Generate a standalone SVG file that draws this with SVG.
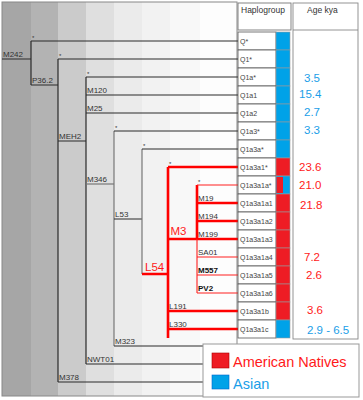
<svg xmlns="http://www.w3.org/2000/svg" width="363" height="400" viewBox="0 0 363 400">
<style>
.bl{stroke:#2a2a2a;stroke-width:1.2;fill:none}
.gl{stroke:#777;stroke-width:1.2;fill:none}
.rt{stroke:#ff0000;stroke-width:2.6;fill:none}
.rn{stroke:#ff2020;stroke-width:1.1;fill:none}
.lab{font-family:"Liberation Sans",Arial,sans-serif;font-size:8px;fill:#333}
.lb{font-weight:bold;fill:#111}
.ast{font-family:"Liberation Sans",Arial,sans-serif;font-size:6px;fill:#333}
.big{font-family:"Liberation Sans",Arial,sans-serif;font-size:11.5px;fill:#ff1a1a}
.hg{font-family:"Liberation Sans",Arial,sans-serif;font-size:7px;fill:#444}
.cell{fill:#fff;stroke:#555;stroke-width:0.8}
.red{fill:#ee1c24;stroke:#999;stroke-width:0.6}
.blue{fill:#00a2e8;stroke:#999;stroke-width:0.6}
.age{font-family:"Liberation Sans",Arial,sans-serif;font-size:11.5px}
.ab{fill:#1a9ee8}
.ar{fill:#ff1a1a}
.hdr{font-family:"Liberation Sans",Arial,sans-serif;font-size:8.5px;fill:#333}
</style>

<!-- background bands -->
<g id="background">
<rect x="2" y="2" width="235" height="394" fill="#fdfdfd"/>
<rect x="2" y="2" width="29" height="394" fill="#a6a6a6"/>
<rect x="31" y="2" width="27" height="394" fill="#b3b3b3"/>
<rect x="58" y="2" width="28" height="394" fill="#cbcbcb"/>
<rect x="86" y="2" width="28" height="394" fill="#dfdfdf"/>
<rect x="114" y="2" width="28" height="394" fill="#ebebeb"/>
<rect x="142" y="2" width="28" height="394" fill="#f2f2f2"/>
<rect x="170" y="2" width="30" height="394" fill="#f8f8f8"/>
<rect x="2" y="2" width="235" height="394" fill="none" stroke="#888" stroke-width="1"/>
</g>

<!-- connectors -->
<g id="connectors">
<path class="bl" d="M2 59H31M31 41V85M31 41H238M31 85H58"/>
<path class="bl" d="M58 59V382M58 59H238M58 141H86M58 382H237"/>
<path class="bl" d="M86 77V364M86 77H238M86 95H238M86 113H238M86 364H237"/>
<path class="gl" d="M86 184H114"/>
<path class="gl" d="M114 131V346"/>
<path class="bl" d="M114 131H238M114 219H142M114 346H237"/>
<path class="gl" d="M142 149V274"/>
<path class="bl" d="M142 149H238"/>
<path class="rt" d="M142 274H168M168 167V338M168 167H238M168 239H238M168 311H238M168 329H238"/>
<path class="rt" d="M197 185V239M197 203H238M197 221H238" stroke-width="2.2"/>
<path class="rn" d="M197 239V293M197 185H238M197 257H238M197 275H238M197 293H238"/>
</g>

<!-- branch labels -->
<g id="branch-labels">
<text class="lab" x="3" y="57">M242</text>
<text class="lab" x="32" y="83">P36.2</text>
<text class="lab" x="59" y="139">MEH2</text>
<text class="lab" x="87" y="93">M120</text>
<text class="lab" x="87" y="111">M25</text>
<text class="lab" x="87" y="182">M346</text>
<text class="lab" x="87" y="362">NWT01</text>
<text class="lab" x="59" y="380">M378</text>
<text class="lab" x="115" y="217">L53</text>
<text class="lab" x="115" y="344">M323</text>
<text class="lab" x="169" y="309">L191</text>
<text class="lab" x="169" y="327">L330</text>
<text class="lab" x="198" y="201">M19</text>
<text class="lab" x="198" y="219">M194</text>
<text class="lab" x="198" y="237">M199</text>
<text class="lab" x="198" y="255">SA01</text>
<text class="lab lb" x="198" y="273">M557</text>
<text class="lab lb" x="198" y="291">PV2</text>
<text class="big" x="145" y="270.5">L54</text>
<text class="big" x="170.5" y="234.5">M3</text>
<text class="ast" x="32" y="40">*</text>
<text class="ast" x="59" y="58">*</text>
<text class="ast" x="87" y="76">*</text>
<text class="ast" x="115" y="130">*</text>
<text class="ast" x="143" y="148">*</text>
<text class="ast" x="169" y="166">*</text>
<text class="ast" x="198" y="184">*</text>
</g>

<!-- headers -->
<g id="header-haplogroup">
<rect x="238" y="3" width="53" height="27" fill="#fff" stroke="#777" stroke-width="0.9"/>
<text class="hdr" x="241" y="13">Haplogroup</text>
</g>
<g id="age-column">
<rect x="293" y="3" width="65" height="336" fill="#fff" stroke="#888" stroke-width="0.9"/>
<line x1="293" y1="30" x2="358" y2="30" stroke="#888" stroke-width="0.9"/>
<text class="hdr" x="307" y="13">Age kya</text>
</g>

<!-- haplogroup nodes -->
<g id="n-Q"><rect class="cell" x="238" y="32" width="38" height="18"/><rect class="blue" x="276" y="32" width="14" height="18"/><text class="hg" x="240" y="43.5">Q*</text></g>
<g id="n-Q1"><rect class="cell" x="238" y="50" width="38" height="18"/><rect class="blue" x="276" y="50" width="14" height="18"/><text class="hg" x="240" y="61.5">Q1*</text></g>
<g id="n-Q1a"><rect class="cell" x="238" y="68" width="38" height="18"/><rect class="blue" x="276" y="68" width="14" height="18"/><text class="hg" x="240" y="79.5">Q1a*</text><text class="age ab" x="304" y="81.5">3.5</text></g>
<g id="n-Q1a1"><rect class="cell" x="238" y="86" width="38" height="18"/><rect class="blue" x="276" y="86" width="14" height="18"/><text class="hg" x="240" y="97.5">Q1a1</text><text class="age ab" x="299" y="97.5">15.4</text></g>
<g id="n-Q1a2"><rect class="cell" x="238" y="104" width="38" height="18"/><rect class="blue" x="276" y="104" width="14" height="18"/><text class="hg" x="240" y="115.5">Q1a2</text><text class="age ab" x="304" y="116">2.7</text></g>
<g id="n-Q1a3"><rect class="cell" x="238" y="122" width="38" height="18"/><rect class="blue" x="276" y="122" width="14" height="18"/><text class="hg" x="240" y="133.5">Q1a3*</text><text class="age ab" x="304" y="134">3.3</text></g>
<g id="n-Q1a3a"><rect class="cell" x="238" y="140" width="38" height="18"/><rect class="blue" x="276" y="140" width="14" height="18"/><text class="hg" x="240" y="151.5">Q1a3a*</text></g>
<g id="n-Q1a3a1"><rect class="cell" x="238" y="158" width="38" height="18"/><rect class="red" x="276" y="158" width="14" height="18"/><text class="hg" x="240" y="169.5">Q1a3a1*</text><text class="age ar" x="299" y="170.5">23.6</text></g>
<g id="n-Q1a3a1a"><rect class="cell" x="238" y="176" width="38" height="18"/><rect class="blue" x="276" y="176" width="14" height="18"/><rect x="276.5" y="177" width="6.5" height="16" fill="#ee1c24"/><text class="hg" x="240" y="187.5">Q1a3a1a*</text><text class="age ar" x="299" y="188.5">21.0</text></g>
<g id="n-Q1a3a1a1"><rect class="cell" x="238" y="194" width="38" height="18"/><rect class="red" x="276" y="194" width="14" height="18"/><text class="hg" x="240" y="205.5">Q1a3a1a1</text><text class="age ar" x="300" y="209">21.8</text></g>
<g id="n-Q1a3a1a2"><rect class="cell" x="238" y="212" width="38" height="18"/><rect class="red" x="276" y="212" width="14" height="18"/><text class="hg" x="240" y="223.5">Q1a3a1a2</text></g>
<g id="n-Q1a3a1a3"><rect class="cell" x="238" y="230" width="38" height="18"/><rect class="red" x="276" y="230" width="14" height="18"/><text class="hg" x="240" y="241.5">Q1a3a1a3</text></g>
<g id="n-Q1a3a1a4"><rect class="cell" x="238" y="248" width="38" height="18"/><rect class="red" x="276" y="248" width="14" height="18"/><text class="hg" x="240" y="259.5">Q1a3a1a4</text><text class="age ar" x="304" y="261">7.2</text></g>
<g id="n-Q1a3a1a5"><rect class="cell" x="238" y="266" width="38" height="18"/><rect class="red" x="276" y="266" width="14" height="18"/><text class="hg" x="240" y="277.5">Q1a3a1a5</text><text class="age ar" x="306" y="279">2.6</text></g>
<g id="n-Q1a3a1a6"><rect class="cell" x="238" y="284" width="38" height="18"/><rect class="red" x="276" y="284" width="14" height="18"/><text class="hg" x="240" y="295.5">Q1a3a1a6</text></g>
<g id="n-Q1a3a1b"><rect class="cell" x="238" y="302" width="38" height="18"/><rect class="red" x="276" y="302" width="14" height="18"/><text class="hg" x="240" y="313.5">Q1a3a1b</text><text class="age ar" x="307" y="314">3.6</text></g>
<g id="n-Q1a3a1c"><rect class="cell" x="238" y="320" width="38" height="18"/><rect class="blue" x="276" y="320" width="14" height="18"/><text class="hg" x="240" y="331.5">Q1a3a1c</text><text class="age ab" x="307" y="334">2.9 - 6.5</text></g>

<!-- legend -->
<g id="legend">
<rect x="203" y="344" width="156" height="53" fill="#fff" stroke="#999" stroke-width="1"/>
<rect x="212" y="353" width="17" height="15" fill="#ee1c24" stroke="#a00" stroke-width="0.6"/>
<rect x="212" y="375" width="17" height="14" fill="#00a2e8" stroke="#06c" stroke-width="0.6"/>
<text x="233" y="367" font-family="'Liberation Sans',Arial,sans-serif" font-size="14.5" fill="#ff1a1a">American Natives</text>
<text x="233" y="388.5" font-family="'Liberation Sans',Arial,sans-serif" font-size="14.5" fill="#1a9ee8">Asian</text>
</g>
</svg>
